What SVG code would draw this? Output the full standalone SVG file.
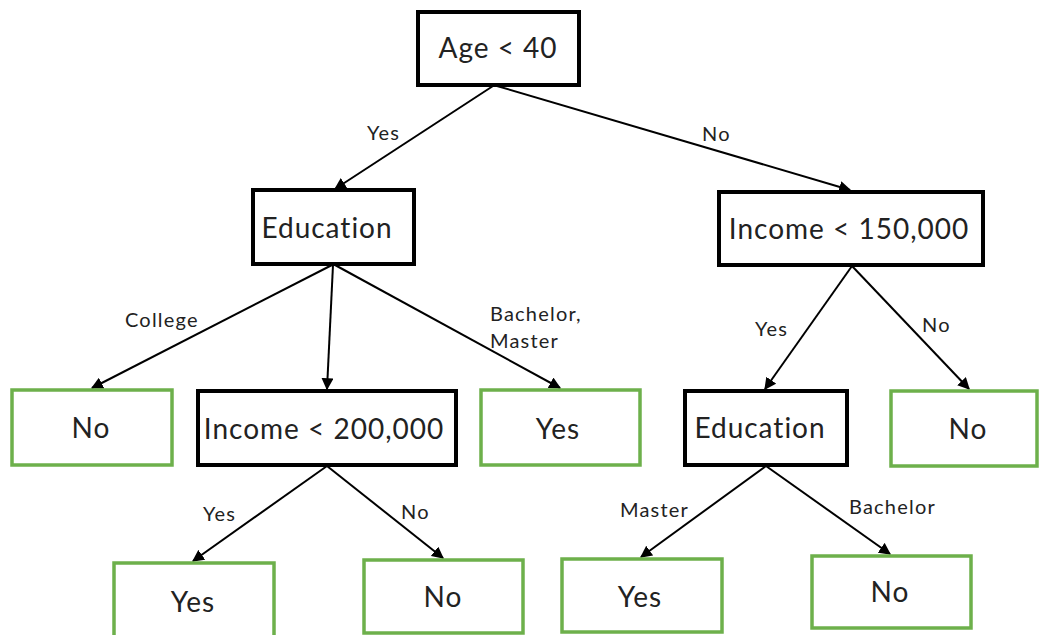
<svg xmlns="http://www.w3.org/2000/svg" width="1040" height="635" viewBox="0 0 1040 635">
<defs>
<marker id="arr" viewBox="0 0 10 10" refX="9" refY="5" markerWidth="6" markerHeight="6" markerUnits="strokeWidth" orient="auto">
<path d="M0,0 L10,5 L0,10 z" fill="#000"/>
</marker>
<style>
.dec{fill:#fff;stroke:#000;stroke-width:4}
.leaf{fill:#fff;stroke:#6db04b;stroke-width:3.5}
.nt{font-family:Lato,"Noto Sans",sans-serif;font-size:28px;letter-spacing:1px;fill:#222;text-anchor:middle}
.el{font-family:Lato,"Noto Sans",sans-serif;font-size:20px;letter-spacing:1.2px;fill:#222}
.c{stroke:#000;stroke-width:2;fill:none;marker-end:url(#arr)}
</style>
</defs>
<rect width="1040" height="635" fill="#fff"/>
<g id="connectors">
<line class="c" x1="493" y1="86" x2="335" y2="189"/>
<line class="c" x1="497" y1="86" x2="850" y2="190"/>
<line class="c" x1="332" y1="265" x2="92" y2="388"/>
<line class="c" x1="333" y1="265" x2="327" y2="389"/>
<line class="c" x1="335" y1="265" x2="560" y2="388"/>
<line class="c" x1="852" y1="266" x2="765" y2="389"/>
<line class="c" x1="852" y1="266" x2="969" y2="389"/>
<line class="c" x1="327" y1="466" x2="193" y2="561"/>
<line class="c" x1="327" y1="466" x2="443" y2="558"/>
<line class="c" x1="766" y1="466" x2="641" y2="557"/>
<line class="c" x1="766" y1="466" x2="890" y2="554"/>
<text class="el" x="367" y="140">Yes</text>
<text class="el" x="702" y="141">No</text>
<text class="el" x="125" y="327">College</text>
<text class="el" x="490" y="321">Bachelor,</text>
<text class="el" x="490" y="348">Master</text>
<text class="el" x="755" y="336">Yes</text>
<text class="el" x="922" y="332">No</text>
<text class="el" x="203" y="521">Yes</text>
<text class="el" x="401" y="519">No</text>
<text class="el" x="620" y="517">Master</text>
<text class="el" x="849" y="514">Bachelor</text>
</g>
<g id="n-age"><rect class="dec" x="418" y="12" width="161" height="73"/><text class="nt" x="498" y="58">Age &lt; 40</text></g>
<g id="n-edu1"><rect class="dec" x="253" y="190" width="161" height="74"/><text class="nt" x="327" y="238">Education</text></g>
<g id="n-inc150"><rect class="dec" x="719" y="192" width="264" height="73"/><text class="nt" x="849" y="239">Income &lt; 150,000</text></g>
<g id="n-no1"><rect class="leaf" x="12" y="390" width="160" height="75"/><text class="nt" x="91" y="438">No</text></g>
<g id="n-inc200"><rect class="dec" x="198" y="391" width="258" height="74"/><text class="nt" x="324" y="439">Income &lt; 200,000</text></g>
<g id="n-yes1"><rect class="leaf" x="481" y="390" width="159" height="75"/><text class="nt" x="558" y="439">Yes</text></g>
<g id="n-edu2"><rect class="dec" x="685" y="391" width="162" height="74"/><text class="nt" x="760" y="438">Education</text></g>
<g id="n-no2"><rect class="leaf" x="891" y="391" width="146" height="75"/><text class="nt" x="968" y="439">No</text></g>
<g id="n-yes2"><rect class="leaf" x="114" y="563" width="160" height="76"/><text class="nt" x="193" y="612">Yes</text></g>
<g id="n-no3"><rect class="leaf" x="364" y="560" width="159" height="73"/><text class="nt" x="443" y="607">No</text></g>
<g id="n-yes3"><rect class="leaf" x="562" y="559" width="160" height="73"/><text class="nt" x="640" y="607">Yes</text></g>
<g id="n-no4"><rect class="leaf" x="812" y="556" width="159" height="72"/><text class="nt" x="890" y="602">No</text></g>
</svg>
